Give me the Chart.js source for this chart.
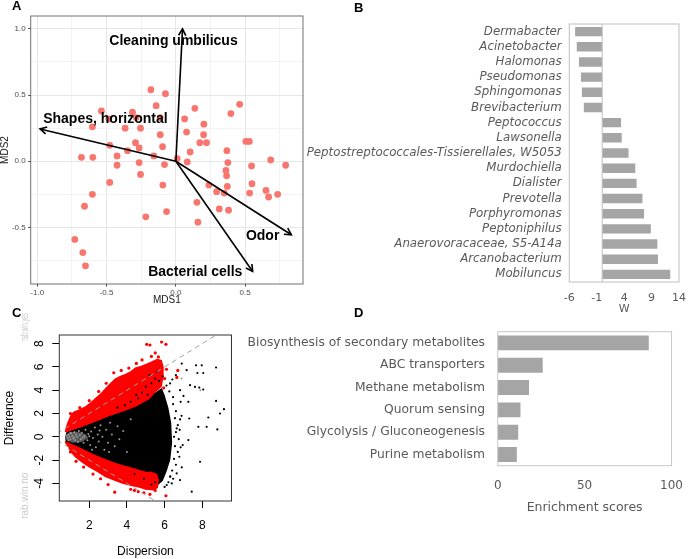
<!DOCTYPE html>
<html><head><meta charset="utf-8">
<script src="https://cdn.jsdelivr.net/npm/chart.js@4.4.1/dist/chart.umd.min.js"></script>
<style>
html,body{margin:0;padding:0;background:#fff;}
body{width:696px;height:559px;position:relative;overflow:hidden;}
canvas{position:absolute;}
.lbl{position:absolute;font:bold 13px "Liberation Sans",Arial,sans-serif;line-height:13px;color:#000;}
</style></head><body>
<canvas id="cA" style="left:0;top:0" width="320" height="310"></canvas>
<canvas id="cB" style="left:300px;top:0" width="396" height="315"></canvas>
<canvas id="cC" style="left:0;top:313px" width="240" height="246"></canvas>
<canvas id="cD" style="left:230px;top:305px" width="466" height="225"></canvas>
<div class="lbl" style="left:12px;top:-1px">A</div>
<div class="lbl" style="left:354px;top:1px">B</div>
<div class="lbl" style="left:12px;top:306px">C</div>
<div class="lbl" style="left:354px;top:306px">D</div>
<script>
// ---------- Panel A data (MDS) ----------
const samplePoints = [[-0.18,0.54],[-0.075,0.51],[-0.142,0.42],[-0.537,0.38],[-0.313,0.37],[-0.286,0.33],[-0.484,0.32],[-0.113,0.33],[-0.602,0.26],[-0.366,0.25],[-0.255,0.25],[-0.113,0.20],[-0.291,0.14],[-0.265,0.10],[-0.096,0.11],[-0.477,0.12],[-0.349,0.08],[-0.424,0.04],[-0.159,0.04],[-0.681,0.03],[-0.599,0.03],[-0.265,-0.01],[-0.424,-0.03],[-0.082,-0.025],[-0.255,-0.10],[-0.477,-0.16],[-0.094,-0.18],[-0.602,-0.25],[-0.659,-0.34],[-0.067,-0.38],[-0.217,-0.42],[-0.729,-0.59],[-0.671,-0.69],[-0.652,-0.79],[0.01,0.02],
[0.137,0.40],[0.063,0.32],[0.077,0.22],[0.202,0.28],[0.20,0.20],[0.173,0.14],[0.221,0.14],[0.103,0.07],[0.082,-0.005],[0.46,0.43],[0.397,0.36],[0.505,0.15],[0.53,0.15],[0.368,0.08],[0.375,-0.01],[0.546,-0.035],[0.684,0.01],[0.792,-0.03],[0.361,-0.07],[0.366,-0.11],[0.371,-0.19],[0.549,-0.17],[0.238,-0.18],[0.294,-0.23],[0.349,-0.24],[0.532,-0.24],[0.65,-0.22],[0.669,-0.27],[0.734,-0.25],[0.152,-0.31],[0.313,-0.36],[0.38,-0.37],[0.159,-0.46]];
const arrowNames = ['Cleaning umbilicus','Shapes, horizontal','Odor','Bacterial cells'];
const arrowTipX = [0.048,-0.98,0.833,0.554];
const arrowTipY = [1.0,0.244,-0.555,-0.832];
const arrowLabelX = [-0.017,-0.508,0.626,0.14];
const arrowLabelY = [0.907,0.317,-0.563,-0.839];
const aXTicks = [-1.0,-0.75,-0.5,-0.25,0,0.25,0.5,0.75];
const aYTicks = [-0.75,-0.5,-0.25,0,0.25,0.5,0.75,1.0];

// ---------- Panel B data ----------
const genera = ['Dermabacter','Acinetobacter','Halomonas','Pseudomonas','Sphingomonas','Brevibacterium','Peptococcus','Lawsonella','Peptostreptococcales-Tissierellales, W5053','Murdochiella','Dialister','Prevotella','Porphyromonas','Peptoniphilus','Anaerovoracaceae, S5-A14a','Arcanobacterium','Mobiluncus'];
const wValues = [-4.94,-4.64,-4.23,-3.88,-3.70,-3.35,3.44,3.56,4.80,6.03,6.27,7.33,7.63,8.87,10.05,10.16,12.40];
const wTicks = [-6,-1,4,9,14];

// ---------- Panel C data (effect plot) ----------
const cXTicks = [2,4,6,8];
const cYTicks = [-4,-2,0,2,4,6,8];
// outlines of the densely packed (solid-looking) point clouds
const blackCloud = [[0.72,0.0],[0.8,0.45],[1.6,0.9],[2.3,1.35],[3.0,1.8],[3.7,2.2],[4.4,2.65],[5.0,3.2],[5.5,3.8],[5.85,4.2],[6.0,3.6],[6.2,2.5],[6.35,1.2],[6.4,-0.5],[6.3,-2.0],[6.1,-3.0],[5.9,-3.8],[5.6,-4.2],[5.35,-3.5],[5.0,-3.05],[4.1,-2.65],[3.2,-2.2],[2.3,-1.65],[1.4,-0.95],[0.75,-0.45]];
const greyTip = [[0.72,0.0],[0.85,0.3],[1.3,0.45],[1.8,0.25],[1.95,-0.1],[1.6,-0.45],[1.1,-0.5],[0.8,-0.3]];
const redUpper = [[0.70,0.42],[0.74,0.75],[0.85,1.3],[1.0,1.85],[1.15,2.15],[1.45,2.35],[1.77,2.6],[2.05,2.95],[2.3,3.3],[2.6,3.75],[2.83,4.15],[3.1,4.6],[3.36,5.0],[3.65,5.25],[3.9,5.4],[4.2,5.65],[4.43,5.95],[4.75,6.1],[5.05,6.3],[5.35,6.5],[5.6,6.7],[5.85,6.6],[5.95,6.0],[5.95,5.2],[5.85,4.3],[5.5,3.8],[5.2,3.25],[4.43,2.55],[3.72,2.12],[3.01,1.75],[2.30,1.27],[1.60,0.84],[0.80,0.40]];
const redLower = [[0.70,-0.35],[1.0,-0.55],[1.42,-0.85],[1.85,-1.2],[2.30,-1.55],[2.75,-1.85],[3.19,-2.12],[3.6,-2.35],[4.07,-2.55],[4.6,-2.8],[5.0,-3.0],[5.3,-3.0],[5.6,-3.2],[5.7,-3.7],[5.65,-4.4],[5.4,-4.6],[5.0,-4.55],[4.6,-4.35],[4.15,-4.2],[3.72,-4.0],[3.3,-3.75],[2.83,-3.45],[2.4,-3.0],[1.95,-2.6],[1.6,-2.2],[1.24,-1.75],[1.0,-1.3],[0.85,-0.85],[0.72,-0.55]];
const redPoints = [[5.05,7.94],[5.22,7.88],[5.84,8.14],[6.07,7.94],[5.67,6.86],[5.75,6.43],[5.5,7.2],[5.3,6.9],[4.8,6.6],[4.5,6.3],[4.1,5.9],[3.7,5.7],[3.3,5.5],[2.9,4.6],[2.5,3.9],[2.0,3.1],[1.5,2.5],[1.0,2.0],[6.1,5.8],[6.0,5.0],[5.95,4.2],[6.7,5.7],[6.65,5.1],[6.07,-5.06],[5.22,-4.94],[4.9,-4.8],[4.4,-4.6],[3.35,-4.75],[3.0,-4.1],[2.6,-3.6],[2.2,-3.2],[1.7,-2.6],[1.3,-2.1],[1.0,-1.3],[4.2,-4.5],[4.6,-4.7],[5.5,-4.6],[5.0,-4.4]];
const blackMix = [[4.8,3.8],[5.0,4.3],[5.3,4.6],[5.5,5.0],[5.2,5.3],[4.6,3.3],[4.2,3.0],[3.9,2.7],[5.7,4.8],[5.9,5.2],[5.6,5.6],[3.5,2.5],[4.5,3.6],[5.1,3.6],[5.3,-4.1],[5.5,-3.9],[4.9,-3.6],[4.4,-3.2]];
const blackPoints = [[6.45,2.8],[6.6,2.2],[6.55,1.6],[6.7,1.0],[6.6,0.4],[6.75,-0.2],[6.55,-0.8],[6.7,-1.3],[6.5,-1.9],[6.6,-2.4],[6.4,-2.9],[6.3,-3.4],[6.2,-3.9],[6.0,-4.3],[6.45,3.4],[6.25,3.9],[6.1,4.4],[6.5,0.0],[6.8,0.6],[6.85,-0.9],[6.45,-3.6],[6.9,1.8],
[6.91,6.29],[7.17,5.72],[7.67,6.14],[7.97,6.14],[7.74,5.48],[8.05,5.48],[8.73,5.95],[7.35,4.43],[7.61,4.28],[7.84,4.23],[8.05,4.06],[6.60,5.29],[6.41,4.92],[6.29,4.58],[6.82,4.0],[7.0,3.51],[7.26,3.0],[6.85,3.0],[8.73,3.08],[9.15,2.37],[8.94,2.0],[8.32,1.66],[7.31,1.57],[7.79,0.86],[8.23,0.86],[8.80,0.63],[6.82,1.49],[6.64,0.72],[7.26,-0.28],[6.96,-0.71],[7.88,-2.14],[6.78,-1.71],[6.91,-2.62],[6.64,-3.14],[6.82,-3.71],[7.44,-4.71],[6.29,-3.43],[6.38,-4.0],[6.11,-4.14]];
const greyPoints = [[0.8,0.1],[0.85,-0.1],[0.9,0.2],[0.95,0.0],[1.0,-0.2],[1.05,0.3],[1.1,0.1],[1.15,-0.15],[1.2,0.4],[1.25,-0.3],[1.3,0.2],[1.35,0.0],[1.4,-0.45],[1.45,0.5],[1.5,0.15],[1.55,-0.2],[1.6,0.35],[1.7,-0.5],[1.75,0.05],[1.8,0.6],[1.9,-0.3],[1.95,0.25],[2.05,-0.7],[2.1,0.45],[2.2,-0.1],[2.3,0.8],[2.35,-0.9],[2.45,0.2],[2.5,-0.4],[2.6,1.0],[2.7,0.0],[2.8,-1.1],[2.9,0.6],[3.0,-0.5],[3.1,1.2],[3.2,0.2],[3.35,-0.8],[3.5,0.9],[3.6,-0.2],[3.8,0.5],[4.0,-1.3],[4.2,1.5],[2.0,0.05],[1.65,-0.05],[1.2,-0.05],[0.9,-0.3],[1.0,0.35],[2.55,0.55],[3.05,-1.3],[2.15,-1.1],[7.9,4.0],[6.9,5.0]];
const refLineUp = [[0.3,0.3],[9.6,9.6]];
const refLineDown = [[0.3,-0.3],[9.6,-9.6]];

// ---------- Panel D data ----------
const pathways = ['Biosynthesis of secondary metabolites','ABC transporters','Methane metabolism','Quorum sensing','Glycolysis / Gluconeogenesis','Purine metabolism'];
const enrichment = [86.9,25.9,18.0,13.1,11.8,11.0];
const enrTicks = [0,50,100];

// ---------- helpers ----------
const FR = '"Liberation Sans", Arial, sans-serif';
const FV = '"DejaVu Sans", Verdana, sans-serif';
Chart.defaults.animation = false;
const toXY = arr => arr.map(p => ({x:p[0], y:p[1]}));
const setTicks = vals => (s => { s.ticks = vals.map(v => ({value:v})); });
function framePlugin(id, color, width){
  return {id, afterDatasetsDraw(chart){
    const {ctx, chartArea:a} = chart;
    ctx.save(); ctx.strokeStyle = color; ctx.lineWidth = width;
    ctx.strokeRect(a.left, a.top, a.right - a.left, a.bottom - a.top);
    ctx.restore();
  }};
}
const isMajor = v => Math.abs(v*2 - Math.round(v*2)) < 1e-6;

// ---------- Chart A ----------
const arrowPlugin = {id:'arrows', afterDatasetsDraw(chart){
  const {ctx, scales:{x, y}} = chart;
  ctx.save();
  ctx.strokeStyle = '#000'; ctx.lineWidth = 1.6;
  const ox = x.getPixelForValue(0), oy = y.getPixelForValue(0);
  arrowNames.forEach((n, i) => {
    const tx = x.getPixelForValue(arrowTipX[i]), ty = y.getPixelForValue(arrowTipY[i]);
    const ang = Math.atan2(ty - oy, tx - ox), L = 7.5, da = 0.5;
    ctx.beginPath();
    ctx.moveTo(tx - L*Math.cos(ang - da), ty - L*Math.sin(ang - da));
    ctx.lineTo(tx, ty);
    ctx.lineTo(tx - L*Math.cos(ang + da), ty - L*Math.sin(ang + da));
    ctx.stroke();
  });
  ctx.fillStyle = '#000'; ctx.font = 'bold 14px ' + FR;
  ctx.textAlign = 'center'; ctx.textBaseline = 'middle';
  arrowNames.forEach((n, i) => {
    ctx.fillText(n, x.getPixelForValue(arrowLabelX[i]), y.getPixelForValue(arrowLabelY[i]));
  });
  ctx.restore();
}};
new Chart(document.getElementById('cA'), {
  type:'scatter',
  data:{datasets:[
    ...arrowNames.map((n, i) => ({label:n, type:'line', data:[{x:0,y:0},{x:arrowTipX[i],y:arrowTipY[i]}], borderColor:'#000', borderWidth:1.6, pointRadius:0, fill:false, tension:0})),
    {label:'samples', data:toXY(samplePoints), backgroundColor:'#F8766D', borderWidth:0, pointRadius:3.4}
  ]},
  options:{
    responsive:false, animation:false, events:[],
    layout:{padding:{left:0, top:16, right:17, bottom:0}},
    plugins:{legend:{display:false}, tooltip:{enabled:false}},
    scales:{
      x:{type:'linear', min:-1.047, max:0.917, afterBuildTicks:setTicks(aXTicks), afterFit:s => { s.height = 26; },
        grid:{color:c => isMajor(c.tick.value) ? '#e6e6e6' : '#f3f3f3', tickColor:c => isMajor(c.tick.value) ? '#444' : 'rgba(0,0,0,0)', tickLength:2.5, lineWidth:1},
        border:{display:false},
        ticks:{autoSkip:false, maxRotation:0, padding:1, color:'#4d4d4d', font:{family:FR, size:8}, callback:v => isMajor(v) ? v.toFixed(1) : ''},
        title:{display:true, text:'MDS1', color:'#1a1a1a', font:{family:FR, size:10, lineHeight:1}, padding:{top:0, bottom:5}}},
      y:{type:'linear', min:-0.927, max:1.097, afterBuildTicks:setTicks(aYTicks), afterFit:s => { s.width = 30.7; },
        grid:{color:c => isMajor(c.tick.value) ? '#e6e6e6' : '#f3f3f3', tickColor:c => isMajor(c.tick.value) ? '#444' : 'rgba(0,0,0,0)', tickLength:2.5, lineWidth:1},
        border:{display:false},
        ticks:{autoSkip:false, padding:2.5, color:'#4d4d4d', font:{family:FR, size:8}, callback:v => isMajor(v) ? v.toFixed(1) : ''},
        title:{display:true, text:'MDS2', color:'#1a1a1a', font:{family:FR, size:10, lineHeight:1}, padding:{top:0, bottom:0}}}
    }
  },
  plugins:[framePlugin('frameA', '#707070', 1), arrowPlugin]
});

// ---------- Chart B ----------
const zeroLine = {id:'zeroLine', afterDatasetsDraw(chart){
  const {ctx, chartArea:a, scales:{x}} = chart;
  const px = x.getPixelForValue(0);
  ctx.save(); ctx.strokeStyle = '#bfbfbf'; ctx.lineWidth = 1;
  ctx.beginPath(); ctx.moveTo(px, a.top); ctx.lineTo(px, a.bottom); ctx.stroke(); ctx.restore();
}};
new Chart(document.getElementById('cB'), {
  type:'bar',
  data:{labels:genera, datasets:[{data:wValues, backgroundColor:'#A5A5A5', barPercentage:0.62, categoryPercentage:1}]},
  options:{
    indexAxis:'y', responsive:false, animation:false, events:[],
    layout:{padding:{left:0, top:24, right:13.7, bottom:0}},
    plugins:{legend:{display:false}, tooltip:{enabled:false}},
    scales:{
      x:{type:'linear', min:-6, max:14, afterBuildTicks:setTicks(wTicks), afterFit:s => { s.height = 33; },
        grid:{display:false, drawTicks:false}, border:{display:false},
        ticks:{autoSkip:false, maxRotation:0, padding:10, color:'#595959', font:{family:FV, size:11}},
        title:{display:true, text:'W', color:'#595959', font:{family:FV, size:11, lineHeight:1}, padding:{top:0, bottom:0}}},
      y:{afterFit:s => { s.width = 269.3; }, grid:{display:false, drawTicks:false}, border:{display:false},
        ticks:{autoSkip:false, padding:7.6, color:'#595959', font:{family:FV, size:11.8, style:'italic'}}}
    }
  },
  plugins:[framePlugin('frameB', '#bfbfbf', 1), zeroLine]
});

// ---------- Chart C ----------
const cPolygons = [[blackCloud, '#000'], [greyTip, '#5a5a5a'], [redUpper, '#ff0000'], [redLower, '#ff0000']];
const polygonPlugin = {id:'clouds', beforeDatasetsDraw(chart){
  const {ctx, chartArea:a, scales:{x, y}} = chart;
  ctx.save();
  ctx.beginPath(); ctx.rect(a.left, a.top, a.right - a.left, a.bottom - a.top); ctx.clip();
  cPolygons.forEach(([pts, color]) => {
    ctx.beginPath();
    pts.forEach((p, i) => {
      const px = x.getPixelForValue(p[0]), py = y.getPixelForValue(p[1]);
      if (i) ctx.lineTo(px, py); else ctx.moveTo(px, py);
    });
    ctx.closePath();
    ctx.fillStyle = color; ctx.fill();
  });
  ctx.restore();
}};
const cLabels = {id:'cLabels', afterDraw(chart){
  const {ctx, scales:{y}} = chart;
  ctx.save();
  ctx.fillStyle = '#000'; ctx.font = '12px ' + FR; ctx.textAlign = 'center'; ctx.textBaseline = 'middle';
  cYTicks.forEach(v => {
    ctx.save(); ctx.translate(40, y.getPixelForValue(v)); ctx.rotate(-Math.PI/2);
    ctx.fillText(String(v), 0, 0); ctx.restore();
  });
  ctx.fillStyle = '#c8c8c8'; ctx.font = '10px ' + FR;
  ctx.save(); ctx.translate(25, 14); ctx.rotate(-Math.PI/2); ctx.fillText('rab.win.yes', 0, 0, 28); ctx.restore();
  ctx.save(); ctx.translate(25, 182.7); ctx.rotate(-Math.PI/2); ctx.fillText('rab.win.no', 0, 0); ctx.restore();
  ctx.restore();
}};
new Chart(document.getElementById('cC'), {
  type:'scatter',
  data:{datasets:[
    {type:'line', data:toXY(refLineUp), borderColor:'#a0a0a0', borderWidth:1, borderDash:[5,4], pointRadius:0, fill:false},
    {type:'line', data:toXY(refLineDown), borderColor:'#a0a0a0', borderWidth:1, borderDash:[5,4], pointRadius:0, fill:false},
    {data:toXY(blackMix), backgroundColor:'#000', borderWidth:0, pointRadius:1.1},
    {data:toXY(redPoints), backgroundColor:'#ff0000', borderWidth:0, pointRadius:1.6},
    {data:toXY(blackPoints), backgroundColor:'#000', borderWidth:0, pointRadius:1.1},
    {data:toXY(greyPoints), backgroundColor:'#9a9a9a', borderWidth:0, pointRadius:1.0}
  ]},
  options:{
    responsive:false, animation:false, events:[],
    layout:{padding:{left:0, top:22, right:8.5, bottom:0}},
    plugins:{legend:{display:false}, tooltip:{enabled:false}},
    scales:{
      x:{type:'linear', min:0.41, max:9.55, afterBuildTicks:setTicks(cXTicks), afterFit:s => { s.height = 58; },
        grid:{drawOnChartArea:false, drawTicks:true, tickLength:7, color:'#000', tickColor:'#000'},
        border:{display:false},
        ticks:{autoSkip:false, maxRotation:0, padding:10, color:'#000', font:{family:FR, size:12}},
        title:{display:true, text:'Dispersion', color:'#000', font:{family:FR, size:12, lineHeight:1}, padding:{top:0, bottom:1}}},
      y:{type:'linear', min:-5.51, max:8.74, afterBuildTicks:setTicks(cYTicks), afterFit:s => { s.width = 59.3; },
        grid:{drawOnChartArea:false, drawTicks:true, tickLength:7, color:'#000', tickColor:'#000'},
        border:{display:false},
        ticks:{display:false},
        title:{display:true, text:'Difference', color:'#000', font:{family:FR, size:12, lineHeight:1}, padding:{top:3.3, bottom:0}}}
    }
  },
  plugins:[polygonPlugin, framePlugin('frameC', '#333', 1), cLabels]
});

// ---------- Chart D ----------
new Chart(document.getElementById('cD'), {
  type:'bar',
  data:{labels:pathways, datasets:[{data:enrichment, backgroundColor:'#A5A5A5', barPercentage:0.67, categoryPercentage:1}]},
  options:{
    indexAxis:'y', responsive:false, animation:false, events:[],
    layout:{padding:{left:0, top:26.7, right:12.7, bottom:0}},
    plugins:{legend:{display:false}, tooltip:{enabled:false}},
    scales:{
      x:{type:'linear', min:0, max:100, afterBuildTicks:setTicks(enrTicks), afterFit:s => { s.height = 64.3; },
        grid:{display:false, drawTicks:false}, border:{display:false},
        ticks:{autoSkip:false, maxRotation:0, padding:13, color:'#595959', font:{family:FV, size:12}},
        title:{display:true, text:'Enrichment scores', color:'#595959', font:{family:FV, size:12.5, lineHeight:1}, padding:{top:0, bottom:16.5}}},
      y:{afterFit:s => { s.width = 267.7; }, grid:{display:false, drawTicks:false}, border:{display:false},
        ticks:{autoSkip:false, padding:12.7, color:'#595959', font:{family:FV, size:12.3}}}
    }
  },
  plugins:[framePlugin('frameD', '#c8c8c8', 1)]
});
</script>
</body></html>
